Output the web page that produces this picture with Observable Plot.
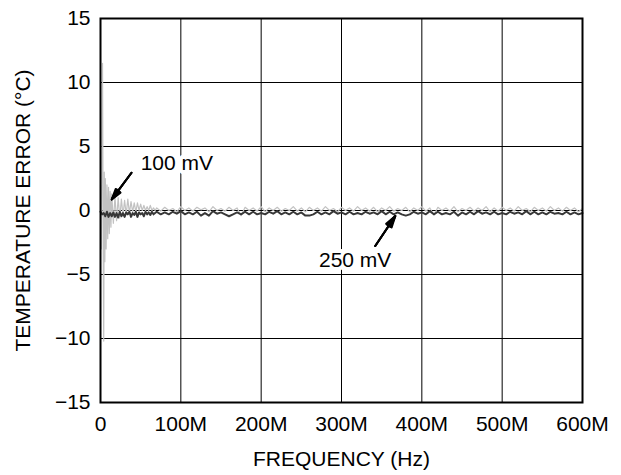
<!DOCTYPE html>
<html><head><meta charset="utf-8">
<script src="https://cdn.jsdelivr.net/npm/d3@7"></script>
<script src="https://cdn.jsdelivr.net/npm/@observablehq/plot@0.6"></script>
<style>
body{margin:0;background:#fff}
svg{font-family:"Liberation Sans",Arial,Helvetica,sans-serif}
</style>
</head><body><div id="chart"></div>
<script>
const xTicks = [0,100,200,300,400,500,600];
const xTickLabels = ["0","100M","200M","300M","400M","500M","600M"];
const yTicks = [-15,-10,-5,0,5,10,15];

// 100 mV trace (light grey), frequency in MHz
const head100Freq = [0,1,2.5,3.3,4,4.7,5.4,6,7,8,9,10,11,12,13,14,16,18,20,22,24,26,28,30,32,34,36,38,40,42,44,46,48,50,52,54,56,58,60,62,64,66,68];
const head100 = [2,-3,11.5,-2,-10.2,3,-4,2.5,-3,2,-2.2,1.8,-1.8,1.5,-1.3,1.3,-1,1.1,-0.8,1.0,-0.6,0.9,-0.4,0.8,-0.3,0.9,-0.2,0.7,-0.1,0.6,-0.1,0.6,0,0.5,0,0.4,0,0.3,0,0.4,0,0.2,0];

// 250 mV trace (dark), frequency in MHz
const head250Freq = [0,2,4,6,8,10,12,14,16,18,20,22,24,26,28,30,32,34,36,38,40,42,44,46,48,50,52,54,56,58,60,62,64,66,68];
const head250 = [-0.1,-0.3,-0.2,-0.45,-0.1,-0.5,-0.2,-0.45,-0.15,-0.5,-0.2,-0.55,-0.1,-0.45,-0.2,-0.5,-0.15,-0.3,-0.1,-0.5,-0.2,-0.35,-0.1,-0.5,-0.15,-0.3,-0.2,-0.45,-0.1,-0.3,-0.15,-0.35,-0.1,-0.3,-0.2];

// shared sampling of the flat tail (MHz)
const tailFreq = [70,75,80,85,90,95,100,105,110,115,120,125,130,135,140,145,150,155,160,165,170,175,180,185,190,195,200,205,210,215,220,225,230,235,240,245,250,255,260,265,270,275,280,285,290,295,300,305,310,315,320,325,330,335,340,345,350,355,360,365,370,375,380,385,390,395,400,405,410,415,420,425,430,435,440,445,450,455,460,465,470,475,480,485,490,495,500,505,510,515,520,525,530,535,540,545,550,555,560,565,570,575,580,585,590,595,600];
const tail100 = [0.2,-0.05,0.25,0,0.15,-0.1,0.3,0,0.2,-0.05,
0.25,0.05,0.2,-0.1,0.3,0,0.15,-0.05,0.25,0,
0.2,-0.4,0.25,0,0.2,-0.05,0.3,-0.1,0.2,0,
0.25,-0.05,0.15,0,0.3,-0.05,0.2,-0.1,0.25,0,
0.2,-0.05,0.3,0,0.15,-0.1,0.25,0,0.2,-0.05,
0.3,0,0.2,-0.05,0.25,-0.1,0.2,0,0.3,-0.05,
0.15,0,0.25,-0.1,0.2,0,0.3,-0.05,0.2,-0.35,
0.25,0,0.2,-0.05,0.3,-0.1,0.15,0,0.25,-0.05,
0.2,0,0.3,-0.1,0.2,-0.05,0.25,0,0.2,-0.05,
0.3,0,0.15,-0.1,0.25,0,0.2,-0.05,0.3,0,
0.2,-0.05,0.25,0,0.2,-0.1,0.15];
const tail250 = [-0.1,-0.3,-0.15,-0.3,-0.1,-0.25,-0.05,-0.3,-0.15,-0.3,
-0.1,-0.4,-0.2,-0.4,-0.05,-0.25,-0.15,-0.3,-0.45,-0.3,
-0.15,-0.3,-0.1,-0.3,-0.1,-0.3,-0.2,-0.3,-0.1,-0.25,
-0.05,-0.3,-0.15,-0.3,-0.1,-0.3,-0.15,-0.4,-0.4,-0.3,
-0.1,-0.3,-0.15,-0.3,-0.05,-0.25,-0.15,-0.3,-0.1,-0.3,
-0.2,-0.3,-0.1,-0.25,-0.15,-0.3,-0.05,-0.3,-0.1,-0.3,
-0.15,-0.3,-0.4,-0.3,-0.1,-0.25,-0.15,-0.3,-0.05,-0.3,
-0.1,-0.3,-0.2,-0.3,-0.1,-0.4,-0.15,-0.3,-0.1,-0.3,
-0.05,-0.25,-0.15,-0.3,-0.1,-0.3,-0.2,-0.3,-0.1,-0.25,
-0.15,-0.3,-0.05,-0.3,-0.1,-0.3,-0.15,-0.3,-0.1,-0.25,
-0.2,-0.3,-0.1,-0.3,-0.15,-0.3,-0.2];

// annotations
const labelText = ["100 mV","250 mV"];
const labelFreq = [95,317];
const labelTemp = [3.7,-3.9];
const arrowFromFreq = [38.6,342];
const arrowFromTemp = [2.95,-2.77];
const arrowToFreq = [14,367];
const arrowToTemp = [0.87,-0.43];

function zip(fs, vs) {
  const n = Math.min(fs.length, vs.length);
  const out = [];
  for (let i = 0; i < n; i++) out.push({f: fs[i], t: vs[i]});
  return out;
}
const data100 = zip(head100Freq.concat(tailFreq), head100.concat(tail100));
const data250 = zip(head250Freq.concat(tailFreq), head250.concat(tail250));
const labels = labelText.map((s,i) => ({s, f: labelFreq[i], t: labelTemp[i]}));
const arrows = arrowFromFreq.map((f,i) => ({f1: f, t1: arrowFromTemp[i], f2: arrowToFreq[i], t2: arrowToTemp[i]}));

const arrowOpts = a => ({x1:"f1", y1:"t1", x2:"f2", y2:"t2", stroke:"black", strokeWidth:2, headLength:12, headAngle:a, insetEnd:0, insetStart:0});

const chart = Plot.plot({
  width: 621, height: 475,
  marginLeft: 100, marginRight: 39, marginTop: 18, marginBottom: 73,
  style: {fontFamily: '"Liberation Sans",Arial,sans-serif', background: "white"},
  x: {domain: [0,600]},
  y: {domain: [-15,15]},
  marks: [
    Plot.gridX(xTicks, {stroke:"black", strokeOpacity:1, strokeWidth:1}),
    Plot.gridY(yTicks, {stroke:"black", strokeOpacity:1, strokeWidth:1}),
    Plot.line(data100, {x:"f", y:"t", stroke:"#c2c2c2", strokeWidth:1.2}),
    Plot.line(data250, {x:"f", y:"t", stroke:"#383838", strokeWidth:2}),
    Plot.frame({stroke:"black", strokeWidth:2}),
    Plot.text(labels, {x:"f", y:"t", text:"s", fontSize:21, fill:"black", stroke:"white", strokeWidth:8}),
    Plot.arrow(arrows, arrowOpts(12)),
    Plot.arrow(arrows, arrowOpts(22)),
    Plot.arrow(arrows, arrowOpts(32)),
    Plot.axisX({ticks: xTicks, tickSize: 0, tickPadding: 14, fontSize: 21,
      tickFormat: d => xTickLabels[xTicks.indexOf(d)],
      label: "FREQUENCY (Hz)", labelAnchor: "center", labelArrow: "none", labelOffset: 63}),
    Plot.axisY({ticks: yTicks, tickSize: 0, tickPadding: 10, fontSize: 21,
      label: "TEMPERATURE ERROR (°C)", labelAnchor: "center", labelArrow: "none", labelOffset: 85})
  ]
});
document.getElementById("chart").appendChild(chart);
</script>
</body></html>
